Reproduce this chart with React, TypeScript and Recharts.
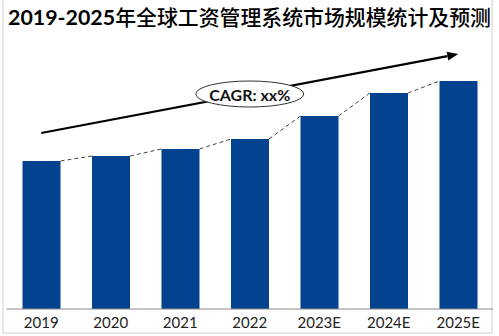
import { BarChart, Bar, XAxis, YAxis, ReferenceLine, ReferenceDot } from 'recharts';

// Market size per year (relative units)
const years = ['2019', '2020', '2021', '2022', '2023E', '2024E', '2025E'];
const marketSize = [148, 153, 160, 170, 193, 216, 228];

const titleYears = '2019-2025';
const titleText = '年全球工资管理系统市场规模统计及预测';
const cagrLabel = 'CAGR: xx%';
const cagrStart = 176; // arrow tail height (value units)
const cagrEnd = 255; // arrow head height
const cagrBubble = 215; // bubble centre height

const data = years.map((year, i) => ({ year, value: marketSize[i] }));

const BAR_COLOR = '#03428f';
const CHART_W = 499;
const CHART_H = 336;
const MARGIN = { top: 45, right: 6, left: 6.5, bottom: 0 };
const BAND = (CHART_W - MARGIN.left - MARGIN.right) / years.length;

// Bar with a dashed connector from its top-right corner to the next bar's top-left
function ConnectedBar(props: any) {
  const { x, y, width, height, index } = props;
  const next = marketSize[index + 1];
  const base = y + height;
  let connector = null;
  if (next !== undefined && height > 0) {
    const nextY = base - (height * next) / marketSize[index];
    const nextX = x + BAND;
    connector = (
      <line
        x1={x + width}
        y1={y}
        x2={nextX}
        y2={nextY}
        stroke="#444"
        strokeWidth={1}
        strokeDasharray="4 3"
      />
    );
  }
  return (
    <g>
      <rect x={x} y={y} width={width} height={height} fill={BAR_COLOR} />
      {connector}
    </g>
  );
}

function Arrow(props: any) {
  const { x1, y1, x2, y2 } = props;
  const ang = Math.atan2(y2 - y1, x2 - x1);
  const len = 11;
  const half = 4.5;
  const bx = x2 - len * Math.cos(ang);
  const by = y2 - len * Math.sin(ang);
  const px = -Math.sin(ang) * half;
  const py = Math.cos(ang) * half;
  return (
    <g>
      <line x1={x1} y1={y1} x2={bx} y2={by} stroke="#000" strokeWidth={2.2} />
      <polygon points={`${x2},${y2} ${bx + px},${by + py} ${bx - px},${by - py}`} fill="#000" />
    </g>
  );
}

function Bubble(props: any) {
  const { cx, cy } = props;
  return (
    <g>
      <ellipse cx={cx} cy={cy} rx={54} ry={13} fill="#fff" stroke="#333" strokeWidth={1} />
      <text
        x={cx}
        y={cy}
        textAnchor="middle"
        dominantBaseline="central"
        fontFamily="Lato, 'Open Sans', sans-serif"
        fontWeight="bold"
        fontSize={16}
        fill="#111"
      >
        {cagrLabel}
      </text>
    </g>
  );
}

export default function App() {
  return (
    <div style={{ position: 'relative', width: CHART_W, height: CHART_H, background: '#fff', overflow: 'hidden' }}>
      <style>{`body{margin:0}`}</style>
      <svg width={CHART_W} height={CHART_H} style={{ position: 'absolute', left: 0, top: 0 }}>
        <rect x={3} y={-1} width={489} height={334} fill="none" stroke="#cfcfcf" strokeWidth={1} />
        <text x={8} y={25} textLength={483} lengthAdjust="spacingAndGlyphs" fill="#000">
          <tspan fontFamily="Lato, 'Open Sans', sans-serif" fontWeight="bold" fontSize={21.5}>
            {titleYears}
          </tspan>
          <tspan fontFamily="'Noto Sans CJK SC', sans-serif" fontWeight={500} fontSize={21}>
            {titleText}
          </tspan>
        </text>
      </svg>
      <div style={{ position: 'absolute', left: 0, top: 0 }}>
        <BarChart width={CHART_W} height={CHART_H} data={data} margin={MARGIN}>
          <XAxis
            dataKey="year"
            height={27}
            axisLine={{ stroke: '#8a8a8a', strokeWidth: 1.2 }}
            tickLine={false}
            tick={{ fontSize: 15, fill: '#222', fontFamily: "Lato, 'Open Sans', sans-serif" }}
            interval={0}
          />
          <YAxis hide domain={[0, 264]} />
          <Bar dataKey="value" barSize={38} shape={ConnectedBar} isAnimationActive={false} />
          <ReferenceLine
            segment={[
              { x: years[0], y: cagrStart },
              { x: years[years.length - 1], y: cagrEnd },
            ]}
            shape={Arrow}
            ifOverflow="visible"
          />
          <ReferenceDot x={years[3]} y={cagrBubble} shape={Bubble} ifOverflow="visible" />
        </BarChart>
      </div>
    </div>
  );
}
